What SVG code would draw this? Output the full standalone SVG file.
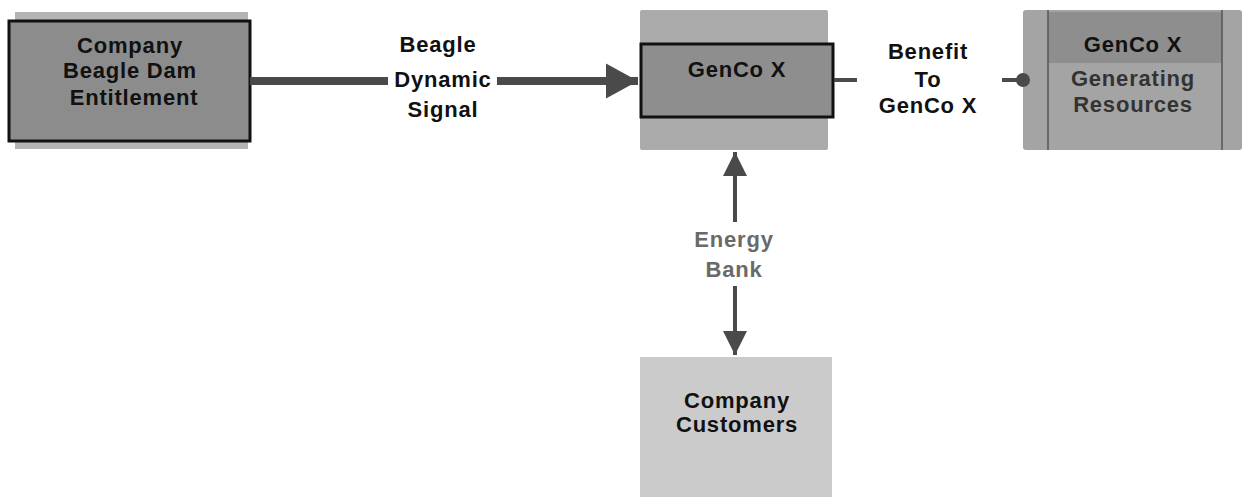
<svg xmlns="http://www.w3.org/2000/svg" width="1243" height="497" viewBox="0 0 1243 497">
<defs>
<style>
text{font-family:"Liberation Sans",Arial,sans-serif;font-weight:bold;font-size:22px;letter-spacing:0.8px;text-anchor:middle;fill:#111}
.gray{fill:#6a6a6a}
.dk{fill:#333}
.edge{stroke:#4a4a4a;fill:none}
.box{stroke:#111;stroke-width:3}
</style>
<marker id="ah" markerWidth="4" markerHeight="4.4" refX="4" refY="2.2" orient="auto" markerUnits="strokeWidth"><path d="M0,0 L4,2.2 L0,4.4 Z" fill="#4a4a4a"/></marker>
<marker id="ah2" markerWidth="6" markerHeight="6" refX="6" refY="3" orient="auto" markerUnits="strokeWidth"><path d="M0,0 L6,3 L0,6 Z" fill="#4a4a4a"/></marker>
</defs>
<rect width="1243" height="497" fill="#fff"/>

<g id="node-entitlement">
<rect x="15" y="12" width="233" height="137" fill="#b4b4b4"/>
<rect class="box" x="9" y="21" width="241" height="120" fill="#8c8c8c"/>
<text x="130" y="53">Company</text>
<text x="130" y="78">Beagle Dam</text>
<text x="134" y="105">Entitlement</text>
</g>

<g id="node-gencox">
<rect x="640" y="10" width="188" height="140" fill="#ababab" rx="2"/>
<rect class="box" x="641" y="44" width="192" height="73" fill="#8e8e8e"/>
<text x="737" y="77">GenCo X</text>
</g>

<g id="node-resources">
<rect x="1023" y="10" width="219" height="140" fill="#a4a4a4" rx="3"/>
<rect x="1048" y="12" width="174" height="51" fill="#8e8e8e"/>
<line x1="1048" y1="10" x2="1048" y2="150" stroke="#555" stroke-width="1.5"/>
<line x1="1222" y1="10" x2="1222" y2="150" stroke="#555" stroke-width="1.5"/>
<text x="1133" y="52">GenCo X</text>
<text class="dk" x="1133" y="86">Generating</text>
<text class="dk" x="1133" y="112">Resources</text>
</g>

<g id="node-customers">
<rect x="640" y="357" width="192" height="140" fill="#cbcbcb"/>
<text x="737" y="408">Company</text>
<text x="737" y="432">Customers</text>
</g>

<g id="connectors">
<line class="edge" x1="250" y1="81" x2="638" y2="81" stroke-width="8" marker-end="url(#ah)"/>
<line class="edge" x1="834" y1="80" x2="857" y2="80" stroke-width="4"/>
<line class="edge" x1="1002" y1="80" x2="1018" y2="80" stroke-width="4"/>
<circle cx="1023" cy="80" r="7" fill="#4a4a4a"/>
<line class="edge" x1="735" y1="222" x2="735" y2="152" stroke-width="4" marker-end="url(#ah2)"/>
<line class="edge" x1="735" y1="286" x2="735" y2="355" stroke-width="4" marker-end="url(#ah2)"/>
<rect x="388" y="63" width="109" height="28" fill="#fff"/>
<text x="438" y="52">Beagle</text>
<text x="443" y="87">Dynamic</text>
<text x="443" y="117">Signal</text>
<text x="928" y="59">Benefit</text>
<text x="928" y="87">To</text>
<text x="928" y="113">GenCo X</text>
<text class="gray" x="734" y="247">Energy</text>
<text class="gray" x="734" y="277">Bank</text>
</g>
</svg>
